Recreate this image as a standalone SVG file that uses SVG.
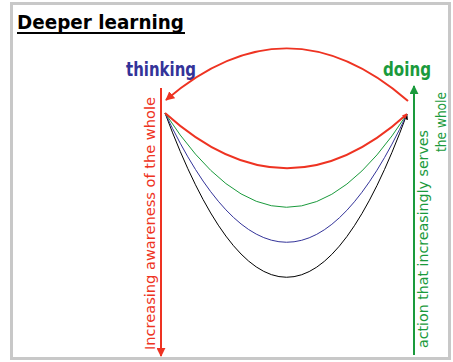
<svg xmlns="http://www.w3.org/2000/svg" width="453" height="362" viewBox="0 0 453 362">
<style>
  .t { font-family: "DejaVu Sans", "Liberation Sans", sans-serif; }
  .curve { fill: none; }
</style>
<defs>
  <marker id="ar" viewBox="0 0 10 10" refX="9" refY="5" markerWidth="5" markerHeight="5" orient="auto" markerUnits="userSpaceOnUse">
    <path d="M0,0 L10,5 L0,10 z" fill="#ee3322"/>
  </marker>
  <marker id="ar2" viewBox="0 0 10 10" refX="9" refY="5" markerWidth="9" markerHeight="9" orient="auto" markerUnits="userSpaceOnUse">
    <path d="M0,0 L10,5 L0,10 z" fill="#ee3322"/>
  </marker>
  <marker id="ag" viewBox="0 0 10 10" refX="9" refY="5" markerWidth="9" markerHeight="9" orient="auto" markerUnits="userSpaceOnUse">
    <path d="M0,0 L10,5 L0,10 z" fill="#1a9a3c"/>
  </marker>
  <marker id="ab" viewBox="0 0 10 10" refX="9" refY="5" markerWidth="6" markerHeight="6" orient="auto" markerUnits="userSpaceOnUse">
    <path d="M0,0 L10,5 L0,10 z" fill="#000"/>
  </marker>
</defs>
<rect x="0" y="0" width="453" height="362" fill="#fff"/>
<rect x="11.5" y="3.5" width="438" height="355" fill="#fff" stroke="#c8c8c8" stroke-width="3"/>

<g id="title">
  <text class="t" x="17" y="29" font-size="20" font-weight="bold" fill="#000" textLength="167" lengthAdjust="spacingAndGlyphs">Deeper learning</text>
  <line x1="17" y1="33" x2="185" y2="33" stroke="#000" stroke-width="2"/>
</g>
<g id="thinking">
  <text class="t" x="126" y="76" font-size="20" font-weight="bold" fill="#333399" textLength="70" lengthAdjust="spacingAndGlyphs">thinking</text>
</g>
<g id="doing">
  <text class="t" x="383" y="76" font-size="20" font-weight="bold" fill="#1a9a3c" textLength="48" lengthAdjust="spacingAndGlyphs">doing</text>
</g>
<g id="awareness">
  <text class="t" transform="translate(155,350) rotate(-90)" font-size="14" fill="#ee3322" textLength="253" lengthAdjust="spacingAndGlyphs">Increasing awareness of the whole</text>
</g>
<g id="action">
  <text class="t" transform="translate(428,348) rotate(-90)" font-size="14" fill="#1a9a3c" textLength="218" lengthAdjust="spacingAndGlyphs">action that increasingly serves</text>
  <text class="t" transform="translate(446,152) rotate(-90)" font-size="14" fill="#1a9a3c" textLength="60" lengthAdjust="spacingAndGlyphs">the whole</text>
</g>

<g id="connectors">
  <line x1="161" y1="88" x2="161" y2="356" stroke="#ee3322" stroke-width="2" marker-end="url(#ar2)"/>
  <line x1="414" y1="355" x2="414" y2="86" stroke="#1a9a3c" stroke-width="2" marker-end="url(#ag)"/>
  <path class="curve" d="M408,101 C327,31 247,31 166,100" stroke="#ee3322" stroke-width="2" marker-end="url(#ar2)"/>
  <path class="curve" d="M165,113 Q287,441 407,114" stroke="#000" stroke-width="1" marker-end="url(#ab)"/>
  <path class="curve" d="M165,113 Q287,371 407,114" stroke="#333399" stroke-width="1"/>
  <path class="curve" d="M165,113 Q287,301 407,114" stroke="#1a9a3c" stroke-width="1"/>
  <path class="curve" d="M165,113 Q287,223 407,114" stroke="#ee3322" stroke-width="2" marker-end="url(#ar)"/>
</g>
</svg>
